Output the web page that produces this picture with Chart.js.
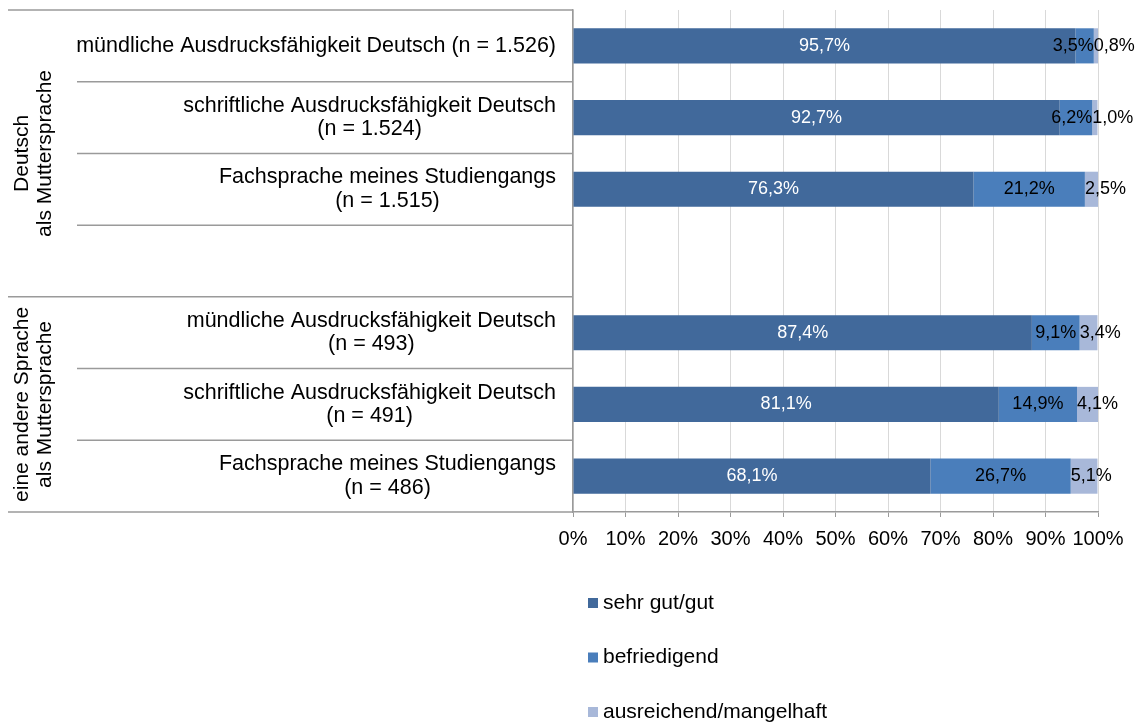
<!DOCTYPE html>
<html>
<head>
<meta charset="utf-8">
<script src="https://cdn.jsdelivr.net/npm/chart.js@4.4.1/dist/chart.umd.min.js"></script>
<style>
  html, body { margin: 0; padding: 0; background: #fff; }
</style>
</head>
<body>
<canvas id="chart" width="1144" height="722"></canvas>
<script>
// category rows (the empty one is the gap between the two groups)
const categories = [
  ['mündliche Ausdrucksfähigkeit Deutsch (n = 1.526)'],
  ['schriftliche Ausdrucksfähigkeit Deutsch', '(n = 1.524)'],
  ['Fachsprache meines Studiengangs', '(n = 1.515)'],
  [''],
  ['mündliche Ausdrucksfähigkeit Deutsch', '(n = 493)'],
  ['schriftliche Ausdrucksfähigkeit Deutsch', '(n = 491)'],
  ['Fachsprache meines Studiengangs', '(n = 486)'],
];
const groupLabels = [
  ['Deutsch', 'als Muttersprache'],
  ['eine andere Sprache', 'als Muttersprache'],
];
const groupSizes = [4, 3];

const seriesNames = ['sehr gut/gut', 'befriedigend', 'ausreichend/mangelhaft'];
const sehrGut      = [95.7, 92.7, 76.3, null, 87.4, 81.1, 68.1];
const befriedigend = [3.5, 6.2, 21.2, null, 9.1, 14.9, 26.7];
const ausreichend  = [0.8, 1.0, 2.5, null, 3.4, 4.1, 5.1];

const colors = ['#41699b', '#4a7ebb', '#a8b8d9'];
const labelColors = ['#ffffff', '#000000', '#000000'];
const FONT = '"Liberation Sans", Arial, sans-serif';
const LINE = '#9a9a9a';

const fmt = v => v.toFixed(1).replace('.', ',') + '%';

const drawPlugin = {
  id: 'extras',
  afterDatasetsDraw(chart) {
    const ctx = chart.ctx;
    const area = chart.chartArea;
    ctx.save();
    ctx.font = '18px ' + FONT;
    ctx.textBaseline = 'middle';
    chart.data.datasets.forEach((ds, di) => {
      const meta = chart.getDatasetMeta(di);
      meta.data.forEach((bar, i) => {
        const v = ds.data[i];
        if (v == null) return;
        const txt = fmt(v);
        const left = Math.min(bar.base, bar.x);
        const right = Math.min(Math.max(bar.base, bar.x), area.right);
        const w = ctx.measureText(txt).width;
        ctx.fillStyle = labelColors[di];
        if (w <= right - left || di === 0) {
          ctx.textAlign = 'center';
          ctx.fillText(txt, (left + right) / 2, bar.y);
        } else if (di === chart.data.datasets.length - 1) {
          ctx.textAlign = 'left';
          ctx.fillText(txt, left, bar.y);
        } else {
          ctx.textAlign = 'right';
          ctx.fillText(txt, right, bar.y);
        }
      });
    });
    ctx.restore();
  },
  afterDraw(chart) {
    const ctx = chart.ctx;
    const area = chart.chartArea;
    const y = chart.scales.y;
    const n = categories.length;
    const centers = categories.map((c, i) => y.getPixelForValue(i));
    const bounds = [area.top];
    for (let i = 0; i < n - 1; i++) bounds.push((centers[i] + centers[i + 1]) / 2);
    bounds.push(area.bottom);

    ctx.save();
    // separators
    const groupStarts = [0];
    groupSizes.forEach((s, g) => groupStarts.push(groupStarts[g] + s));
    ctx.strokeStyle = LINE;
    ctx.lineWidth = 1.5;
    bounds.forEach((b, i) => {
      const full = groupStarts.includes(i);
      ctx.beginPath();
      ctx.moveTo(full ? 8 : 77, b);
      ctx.lineTo(area.left, b);
      ctx.stroke();
    });

    // category labels
    ctx.fillStyle = '#000';
    ctx.font = '21.5px ' + FONT;
    ctx.textBaseline = 'middle';
    ctx.textAlign = 'center';
    const rightEdge = area.left - 17;
    const lh = 23.5;
    categories.forEach((lines, i) => {
      const maxW = Math.max(...lines.map(l => ctx.measureText(l).width));
      const cx = rightEdge - maxW / 2;
      const y0 = centers[i] - (lines.length - 1) * lh / 2;
      lines.forEach((l, k) => ctx.fillText(l, cx, y0 + k * lh));
    });

    // group labels, rotated
    ctx.font = '21px ' + FONT;
    groupLabels.forEach((lines, g) => {
      const top = bounds[groupStarts[g]];
      const bottom = bounds[groupStarts[g + 1]];
      const cy = (top + bottom) / 2;
      ctx.save();
      ctx.translate(33.5, cy);
      ctx.rotate(-Math.PI / 2);
      lines.forEach((l, k) => ctx.fillText(l, 0, (k - (lines.length - 1) / 2) * 23));
      ctx.restore();
    });

    // legend, stacked vertically below the axis
    ctx.textAlign = 'left';
    seriesNames.forEach((name, k) => {
      const ly = area.bottom + 91 + k * 54.5;
      ctx.fillStyle = colors[k];
      ctx.fillRect(area.left + 15, ly - 5, 10, 10);
      ctx.fillStyle = '#000';
      ctx.fillText(name, area.left + 30, ly);
    });
    ctx.restore();
  }
};

new Chart(document.getElementById('chart'), {
  type: 'bar',
  data: {
    labels: categories.map(c => c.join(' ')),
    datasets: [
      { label: seriesNames[0], data: sehrGut, backgroundColor: colors[0] },
      { label: seriesNames[1], data: befriedigend, backgroundColor: colors[1] },
      { label: seriesNames[2], data: ausreichend, backgroundColor: colors[2] },
    ],
  },
  options: {
    responsive: false,
    animation: false,
    indexAxis: 'y',
    categoryPercentage: 0.49,
    barPercentage: 1,
    layout: { padding: { top: 10, right: 46, left: 0, bottom: 0 } },
    plugins: {
      legend: { display: false },
      tooltip: { enabled: false },
    },
    scales: {
      x: {
        stacked: true,
        min: 0,
        max: 100,
        ticks: {
          stepSize: 10,
          autoSkip: false,
          maxRotation: 0,
          padding: 10,
          color: '#000',
          font: { family: FONT, size: 20 },
          callback: v => v + '%',
        },
        grid: { color: '#d9d9d9', tickColor: LINE, tickLength: 5 },
        border: { color: LINE, width: 1.5 },
        afterFit: s => { s.height = 210; },
      },
      y: {
        stacked: true,
        ticks: { display: false },
        grid: { display: false },
        border: { color: LINE, width: 1.5 },
        afterFit: s => { s.width = 573; },
      },
    },
  },
  plugins: [drawPlugin],
});
</script>
</body>
</html>
